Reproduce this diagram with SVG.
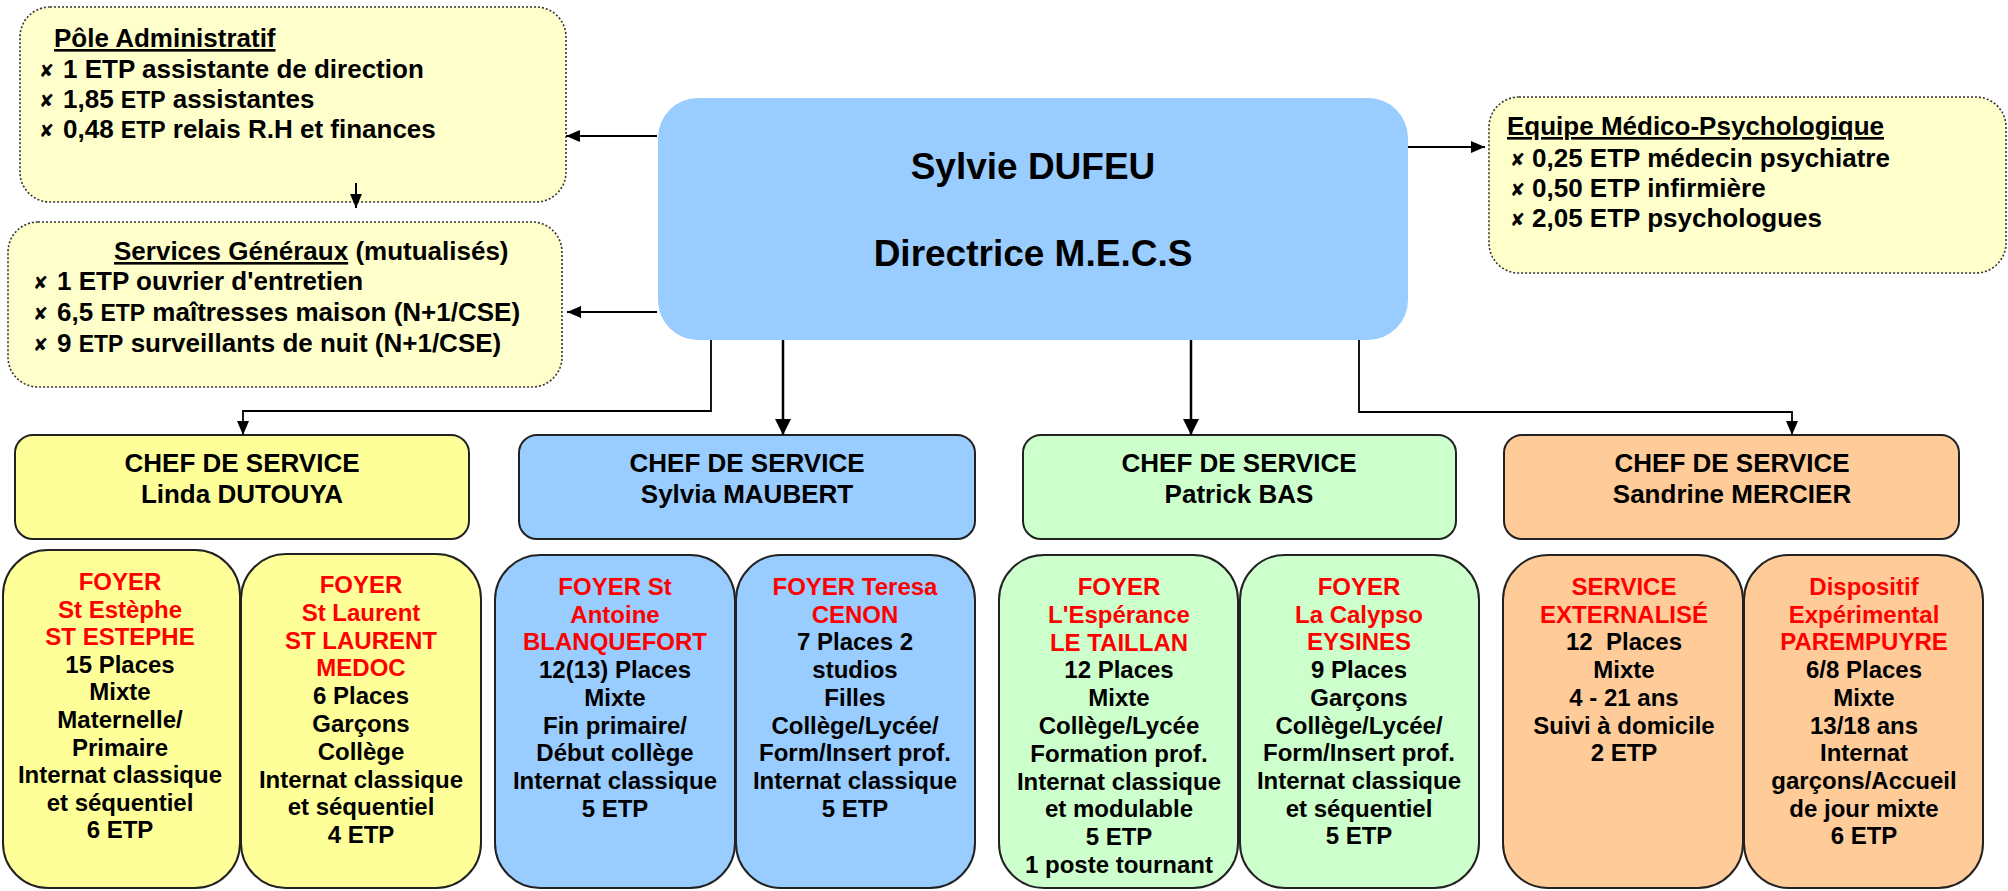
<svg xmlns="http://www.w3.org/2000/svg" width="2008" height="891" viewBox="0 0 2008 891">
<defs>
<style>
text{font-family:"Liberation Sans",Arial,sans-serif;font-weight:bold;fill:#000}
.top{font-size:26px}
.main{font-size:37px}
.chef{font-size:26px;text-anchor:middle}
.f{font-size:24px;text-anchor:middle}
.r{fill:#FF0000}
.bul{font-family:"DejaVu Sans",sans-serif;font-size:18px;font-weight:bold}
.sm{font-size:23px}
.u{text-decoration:underline}
.dot{fill:#FFFFCC;stroke:#333;stroke-width:1.6;stroke-dasharray:2 2}
.box{stroke:#222;stroke-width:2}
.y{fill:#FFFF99}.b{fill:#99CCFF}.g{fill:#CCFFCC}.o{fill:#FFCC99}
.c{fill:none;stroke:#000}
</style>
<marker id="ah" viewBox="0 0 16 16" markerWidth="16" markerHeight="16" refX="16" refY="8" orient="auto" markerUnits="userSpaceOnUse"><path d="M0,0 L16,8 L0,16 z" fill="#000"/></marker>
<marker id="as" viewBox="0 0 14 12" markerWidth="14" markerHeight="12" refX="14" refY="6" orient="auto" markerUnits="userSpaceOnUse"><path d="M0,0 L14,6 L0,12 z" fill="#000"/></marker>
</defs>
<rect width="2008" height="891" fill="#fff"/>

<g id="pole-administratif">
<rect class="dot" x="20" y="7" width="546" height="195" rx="30"/>
<text class="top u" x="54" y="47">Pôle Administratif</text>
<text class="bul" x="39" y="77">✘</text>
<text class="top" x="63" y="78">1 ETP assistante de direction</text>
<text class="bul" x="39" y="107">✘</text>
<text class="top" x="63" y="108">1,85 <tspan class="sm">ETP</tspan> assistantes</text>
<text class="bul" x="39" y="137">✘</text>
<text class="top" x="63" y="138">0,48 <tspan class="sm">ETP</tspan> relais R.H et finances</text>
</g>

<g id="services-generaux">
<rect class="dot" x="8" y="222" width="554" height="165" rx="30"/>
<text class="top" x="114" y="260"><tspan class="u">Services Généraux</tspan> (mutualisés)</text>
<text class="bul" x="33" y="289">✘</text>
<text class="top" x="57" y="290">1 ETP ouvrier d'entretien</text>
<text class="bul" x="33" y="320">✘</text>
<text class="top" x="57" y="321">6,5 <tspan class="sm">ETP</tspan> maîtresses maison (N+1/CSE)</text>
<text class="bul" x="33" y="351">✘</text>
<text class="top" x="57" y="352">9 <tspan class="sm">ETP</tspan> surveillants de nuit (N+1/CSE)</text>
</g>

<g id="directrice">
<rect x="658" y="98" width="750" height="242" rx="40" fill="#99CCFF"/>
<text class="main" x="1033" y="179" text-anchor="middle">Sylvie DUFEU</text>
<text class="main" x="1033" y="266" text-anchor="middle">Directrice M.E.C.S</text>
</g>

<g id="equipe-medico">
<rect class="dot" x="1489" y="97" width="517" height="176" rx="30"/>
<text class="top u" x="1507" y="135">Equipe Médico-Psychologique</text>
<text class="bul" x="1510" y="166">✘</text>
<text class="top" x="1532" y="167">0,25 ETP médecin psychiatre</text>
<text class="bul" x="1510" y="196">✘</text>
<text class="top" x="1532" y="197">0,50 ETP infirmière</text>
<text class="bul" x="1510" y="226">✘</text>
<text class="top" x="1532" y="227">2,05 ETP psychologues</text>
</g>

<g id="chef-linda">
<rect class="box y" x="15" y="435" width="454" height="104" rx="18"/>
<text class="chef" x="242" y="472">CHEF DE SERVICE</text>
<text class="chef" x="242" y="503">Linda DUTOUYA</text>
</g>
<g id="chef-sylvia">
<rect class="box b" x="519" y="435" width="456" height="104" rx="18"/>
<text class="chef" x="747" y="472">CHEF DE SERVICE</text>
<text class="chef" x="747" y="503">Sylvia MAUBERT</text>
</g>
<g id="chef-patrick">
<rect class="box g" x="1023" y="435" width="433" height="104" rx="18"/>
<text class="chef" x="1239" y="472">CHEF DE SERVICE</text>
<text class="chef" x="1239" y="503">Patrick BAS</text>
</g>
<g id="chef-sandrine">
<rect class="box o" x="1504" y="435" width="455" height="104" rx="18"/>
<text class="chef" x="1732" y="472">CHEF DE SERVICE</text>
<text class="chef" x="1732" y="503">Sandrine MERCIER</text>
</g>

<g id="foyer-st-estephe">
<rect class="box y" x="3" y="550" width="237" height="338" rx="45"/>
<text class="f" x="120" y="590"><tspan class="r">FOYER</tspan><tspan class="r" x="120" dy="27.6">St Estèphe</tspan><tspan class="r" x="120" dy="27.6">ST ESTEPHE</tspan><tspan x="120" dy="27.6">15 Places</tspan><tspan x="120" dy="27.6">Mixte</tspan><tspan x="120" dy="27.6">Maternelle/</tspan><tspan x="120" dy="27.6">Primaire</tspan><tspan x="120" dy="27.6">Internat classique</tspan><tspan x="120" dy="27.6">et séquentiel</tspan><tspan x="120" dy="27.6">6 ETP</tspan></text>
</g>
<g id="foyer-st-laurent">
<rect class="box y" x="241" y="554" width="240" height="334" rx="45"/>
<text class="f" x="361" y="593"><tspan class="r">FOYER</tspan><tspan class="r" x="361" dy="27.8">St Laurent</tspan><tspan class="r" x="361" dy="27.8">ST LAURENT</tspan><tspan class="r" x="361" dy="27.8">MEDOC</tspan><tspan x="361" dy="27.8">6 Places</tspan><tspan x="361" dy="27.8">Garçons</tspan><tspan x="361" dy="27.8">Collège</tspan><tspan x="361" dy="27.8">Internat classique</tspan><tspan x="361" dy="27.8">et séquentiel</tspan><tspan x="361" dy="27.8">4 ETP</tspan></text>
</g>
<g id="foyer-st-antoine">
<rect class="box b" x="495" y="555" width="240" height="333" rx="45"/>
<text class="f" x="615" y="595"><tspan class="r">FOYER St</tspan><tspan class="r" x="615" dy="27.7">Antoine</tspan><tspan class="r" x="615" dy="27.7">BLANQUEFORT</tspan><tspan x="615" dy="27.7">12(13) Places</tspan><tspan x="615" dy="27.7">Mixte</tspan><tspan x="615" dy="27.7">Fin primaire/</tspan><tspan x="615" dy="27.7">Début collège</tspan><tspan x="615" dy="27.7">Internat classique</tspan><tspan x="615" dy="27.7">5 ETP</tspan></text>
</g>
<g id="foyer-teresa">
<rect class="box b" x="736" y="555" width="239" height="333" rx="45"/>
<text class="f" x="855" y="595"><tspan class="r">FOYER Teresa</tspan><tspan class="r" x="855" dy="27.7">CENON</tspan><tspan x="855" dy="27.7">7 Places 2</tspan><tspan x="855" dy="27.7">studios</tspan><tspan x="855" dy="27.7">Filles</tspan><tspan x="855" dy="27.7">Collège/Lycée/</tspan><tspan x="855" dy="27.7">Form/Insert prof.</tspan><tspan x="855" dy="27.7">Internat classique</tspan><tspan x="855" dy="27.7">5 ETP</tspan></text>
</g>
<g id="foyer-esperance">
<rect class="box g" x="999" y="555" width="239" height="333" rx="45"/>
<text class="f" x="1119" y="595"><tspan class="r">FOYER</tspan><tspan class="r" x="1119" dy="27.8">L'Espérance</tspan><tspan class="r" x="1119" dy="27.8">LE TAILLAN</tspan><tspan x="1119" dy="27.8">12 Places</tspan><tspan x="1119" dy="27.8">Mixte</tspan><tspan x="1119" dy="27.8">Collège/Lycée</tspan><tspan x="1119" dy="27.8">Formation prof.</tspan><tspan x="1119" dy="27.8">Internat classique</tspan><tspan x="1119" dy="27.8">et modulable</tspan><tspan x="1119" dy="27.8">5 ETP</tspan><tspan x="1119" dy="27.8">1 poste tournant</tspan></text>
</g>
<g id="foyer-calypso">
<rect class="box g" x="1240" y="555" width="239" height="333" rx="45"/>
<text class="f" x="1359" y="595"><tspan class="r">FOYER</tspan><tspan class="r" x="1359" dy="27.7">La Calypso</tspan><tspan class="r" x="1359" dy="27.7">EYSINES</tspan><tspan x="1359" dy="27.7">9 Places</tspan><tspan x="1359" dy="27.7">Garçons</tspan><tspan x="1359" dy="27.7">Collège/Lycée/</tspan><tspan x="1359" dy="27.7">Form/Insert prof.</tspan><tspan x="1359" dy="27.7">Internat classique</tspan><tspan x="1359" dy="27.7">et séquentiel</tspan><tspan x="1359" dy="27.7">5 ETP</tspan></text>
</g>
<g id="service-externalise">
<rect class="box o" x="1503" y="555" width="240" height="333" rx="45"/>
<text class="f" x="1624" y="595"><tspan class="r">SERVICE</tspan><tspan class="r" x="1624" dy="27.7">EXTERNALISÉ</tspan><tspan x="1624" dy="27.7" xml:space="preserve">12  Places</tspan><tspan x="1624" dy="27.7">Mixte</tspan><tspan x="1624" dy="27.7">4 - 21 ans</tspan><tspan x="1624" dy="27.7">Suivi à domicile</tspan><tspan x="1624" dy="27.7">2 ETP</tspan></text>
</g>
<g id="dispositif-experimental">
<rect class="box o" x="1744" y="555" width="239" height="333" rx="45"/>
<text class="f" x="1864" y="595"><tspan class="r">Dispositif</tspan><tspan class="r" x="1864" dy="27.7">Expérimental</tspan><tspan class="r" x="1864" dy="27.7">PAREMPUYRE</tspan><tspan x="1864" dy="27.7">6/8 Places</tspan><tspan x="1864" dy="27.7">Mixte</tspan><tspan x="1864" dy="27.7">13/18 ans</tspan><tspan x="1864" dy="27.7">Internat</tspan><tspan x="1864" dy="27.7">garçons/Accueil</tspan><tspan x="1864" dy="27.7">de jour mixte</tspan><tspan x="1864" dy="27.7">6 ETP</tspan></text>
</g>

<g id="connectors">
<path class="c" stroke-width="2.2" d="M657,136 H566" marker-end="url(#as)"/>
<path class="c" stroke-width="2.2" d="M657,312 H567" marker-end="url(#as)"/>
<path class="c" stroke-width="2" d="M356,183 V208" marker-end="url(#as)"/>
<path class="c" stroke-width="2.2" d="M1408,147 H1485" marker-end="url(#as)"/>
<path class="c" stroke-width="1.8" d="M711,340 V411 H243 V435" marker-end="url(#as)"/>
<path class="c" stroke-width="2.5" d="M783,340 V435" marker-end="url(#ah)"/>
<path class="c" stroke-width="2.5" d="M1191,340 V435" marker-end="url(#ah)"/>
<path class="c" stroke-width="1.8" d="M1359,340 V412 H1792 V435" marker-end="url(#as)"/>
</g>
</svg>
